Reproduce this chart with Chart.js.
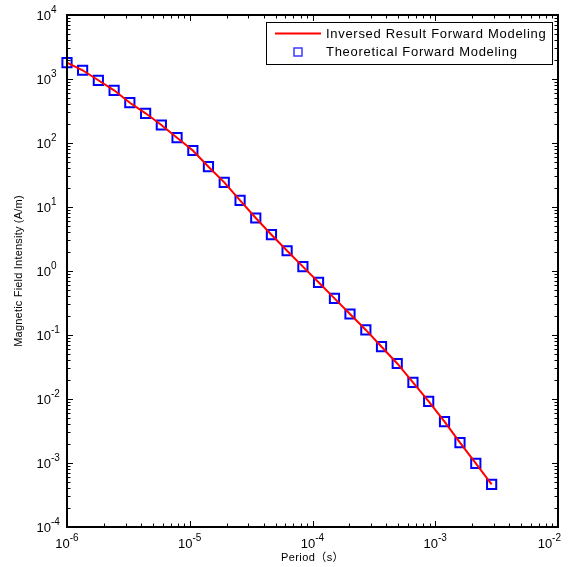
<!DOCTYPE html>
<html>
<head>
<meta charset="utf-8">
<script src="https://cdn.jsdelivr.net/npm/chart.js@4.4.0/dist/chart.umd.min.js"></script>
<style>
  html, body { margin: 0; padding: 0; background: #fff; }
  #chart { display: block; }
</style>
</head>
<body>
<canvas id="chart" width="579" height="567"></canvas>
<script>
// values (log-log)
const periods = [
  1.00e-6, 1.34e-6, 1.80e-6, 2.42e-6, 3.25e-6, 4.37e-6, 5.87e-6, 7.88e-6,
  1.06e-5, 1.42e-5, 1.91e-5, 2.57e-5, 3.45e-5, 4.63e-5, 6.21e-5, 8.35e-5,
  1.12e-4, 1.51e-4, 2.02e-4, 2.72e-4, 3.65e-4, 4.90e-4, 6.58e-4, 8.84e-4,
  1.19e-3, 1.59e-3, 2.14e-3, 2.88e-3
];
const inversedField = [
  1800, 1370, 955, 666, 426, 291, 191, 121,
  76.4, 42.6, 24.3, 12.7, 6.73, 3.69, 2.07, 1.17,
  0.666, 0.374, 0.213, 0.120, 0.0656, 0.0359, 0.0182, 0.0092,
  0.00442, 0.00208, 0.00099, 0.000465
];
const theoreticalField = [
  1800, 1370, 955, 666, 426, 291, 191, 121,
  76.4, 42.6, 24.3, 12.7, 6.73, 3.69, 2.07, 1.17,
  0.666, 0.374, 0.213, 0.120, 0.0656, 0.0359, 0.0182, 0.0092,
  0.00442, 0.00208, 0.00099, 0.000465
];
const xTickExponents = [-6, -5, -4, -3, -2];
const yTickExponents = [-4, -3, -2, -1, 0, 1, 2, 3, 4];
const legendLabels = ["Inversed Result Forward Modeling", "Theoretical Forward Modeling"];
const xTitle = "Period（s）";
const yTitle = "Magnetic Field Intensity (A/m)";

const FONT = "'Liberation Sans', Arial, 'Noto Sans CJK SC', sans-serif";

function toPoints(ys) {
  return periods.map((p, i) => ({ x: p, y: ys[i] }));
}

// draws "10" with a raised exponent
function drawPower(ctx, exp, x, y, mode) {
  const base = "10";
  const sup = String(exp);
  ctx.font = "13px " + FONT;
  const wb = ctx.measureText(base).width;
  ctx.font = "10px " + FONT;
  const ws = ctx.measureText(sup).width;
  let left;
  if (mode === "x") {
    left = x - (wb + ws) / 2;
    if (left + wb + ws > 561) left = 561 - wb - ws;
  } else {
    left = x - wb;
  }
  ctx.textAlign = "left";
  ctx.textBaseline = "alphabetic";
  ctx.font = "13px " + FONT;
  ctx.fillText(base, left, y);
  ctx.font = "10px " + FONT;
  ctx.fillText(sup, left + wb, y - 7);
}

const matlabAxes = {
  id: "matlabAxes",
  afterDraw(chart) {
    const ctx = chart.ctx;
    const a = chart.chartArea;
    const xs = chart.scales.x;
    const ys = chart.scales.y;
    ctx.save();

    // tick marks, inward on all four sides
    ctx.strokeStyle = "#000";
    ctx.lineWidth = 1;
    ctx.beginPath();
    for (let e = xTickExponents[0]; e <= xTickExponents[xTickExponents.length - 1]; e++) {
      for (let m = 1; m <= 9; m++) {
        const v = m * Math.pow(10, e);
        if (v > xs.max * 1.0001) break;
        const px = Math.round(xs.getPixelForValue(v)) + 0.5;
        const len = m === 1 ? 6 : 3.5;
        ctx.moveTo(px, a.bottom); ctx.lineTo(px, a.bottom - len);
        ctx.moveTo(px, a.top); ctx.lineTo(px, a.top + len);
      }
    }
    for (let e = yTickExponents[0]; e <= yTickExponents[yTickExponents.length - 1]; e++) {
      for (let m = 1; m <= 9; m++) {
        const v = m * Math.pow(10, e);
        if (v > ys.max * 1.0001) break;
        const py = Math.round(ys.getPixelForValue(v)) + 0.5;
        const len = m === 1 ? 6 : 3.5;
        ctx.moveTo(a.left, py); ctx.lineTo(a.left + len, py);
        ctx.moveTo(a.right, py); ctx.lineTo(a.right - len, py);
      }
    }
    ctx.stroke();

    // axes box
    ctx.lineWidth = 2;
    ctx.strokeRect(a.left, a.top, a.right - a.left, a.bottom - a.top);

    // tick labels
    ctx.fillStyle = "#000";
    xTickExponents.forEach(e => {
      drawPower(ctx, e, xs.getPixelForValue(Math.pow(10, e)), a.bottom + 21, "x");
    });
    yTickExponents.forEach(e => {
      drawPower(ctx, e, 51, ys.getPixelForValue(Math.pow(10, e)) + 5, "y");
    });

    // axis titles
    ctx.font = "11px " + FONT;
    ctx.textAlign = "center";
    ctx.textBaseline = "middle";
    ctx.letterSpacing = "0.4px";
    ctx.fillText(xTitle, (a.left + a.right) / 2, 558);
    ctx.save();
    ctx.translate(19, (a.top + a.bottom) / 2);
    ctx.rotate(-Math.PI / 2);
    ctx.font = "11px " + FONT;
    ctx.letterSpacing = "0.2px";
    ctx.fillText(yTitle, 0, 0);
    ctx.restore();
    ctx.letterSpacing = "0px";

    // legend box
    const lx = 266, ly = 22, lw = 286, lh = 42;
    ctx.fillStyle = "#fff";
    ctx.fillRect(lx, ly, lw, lh);
    ctx.lineWidth = 1;
    ctx.strokeStyle = "#000";
    ctx.strokeRect(lx + 0.5, ly + 0.5, lw, lh);

    ctx.strokeStyle = "#ff0000";
    ctx.lineWidth = 2;
    ctx.beginPath();
    ctx.moveTo(275, 33.5); ctx.lineTo(321, 33.5);
    ctx.stroke();

    ctx.strokeStyle = "#3a3aff";
    ctx.lineWidth = 1.5;
    ctx.strokeRect(294, 48, 8, 8);

    ctx.fillStyle = "#000";
    ctx.textAlign = "left";
    ctx.textBaseline = "middle";
    ctx.font = "13px " + FONT;
    ctx.letterSpacing = "0.7px";
    ctx.fillText(legendLabels[0], 326, 34);
    ctx.fillText(legendLabels[1], 326, 52.5);
    ctx.letterSpacing = "0px";

    ctx.restore();
  }
};

new Chart(document.getElementById("chart"), {
  type: "scatter",
  data: {
    datasets: [
      {
        label: legendLabels[0],
        data: toPoints(inversedField),
        showLine: true,
        borderColor: "#ff0000",
        borderWidth: 2,
        pointRadius: 0,
        fill: false,
        order: 0
      },
      {
        label: legendLabels[1],
        data: toPoints(theoreticalField),
        showLine: false,
        pointStyle: "rect",
        pointRadius: 6.5,
        borderColor: "#0000ff",
        backgroundColor: "rgba(0,0,0,0)",
        borderWidth: 2,
        clip: false,
        order: 1
      }
    ]
  },
  options: {
    responsive: false,
    animation: false,
    layout: { padding: { left: 67, right: 21, top: 15, bottom: 40 } },
    scales: {
      x: { type: "logarithmic", min: 1e-6, max: 1e-2, display: false },
      y: { type: "logarithmic", min: 1e-4, max: 1e4, display: false }
    },
    plugins: {
      legend: { display: false },
      tooltip: { enabled: false }
    }
  },
  plugins: [matlabAxes]
});
</script>
</body>
</html>
